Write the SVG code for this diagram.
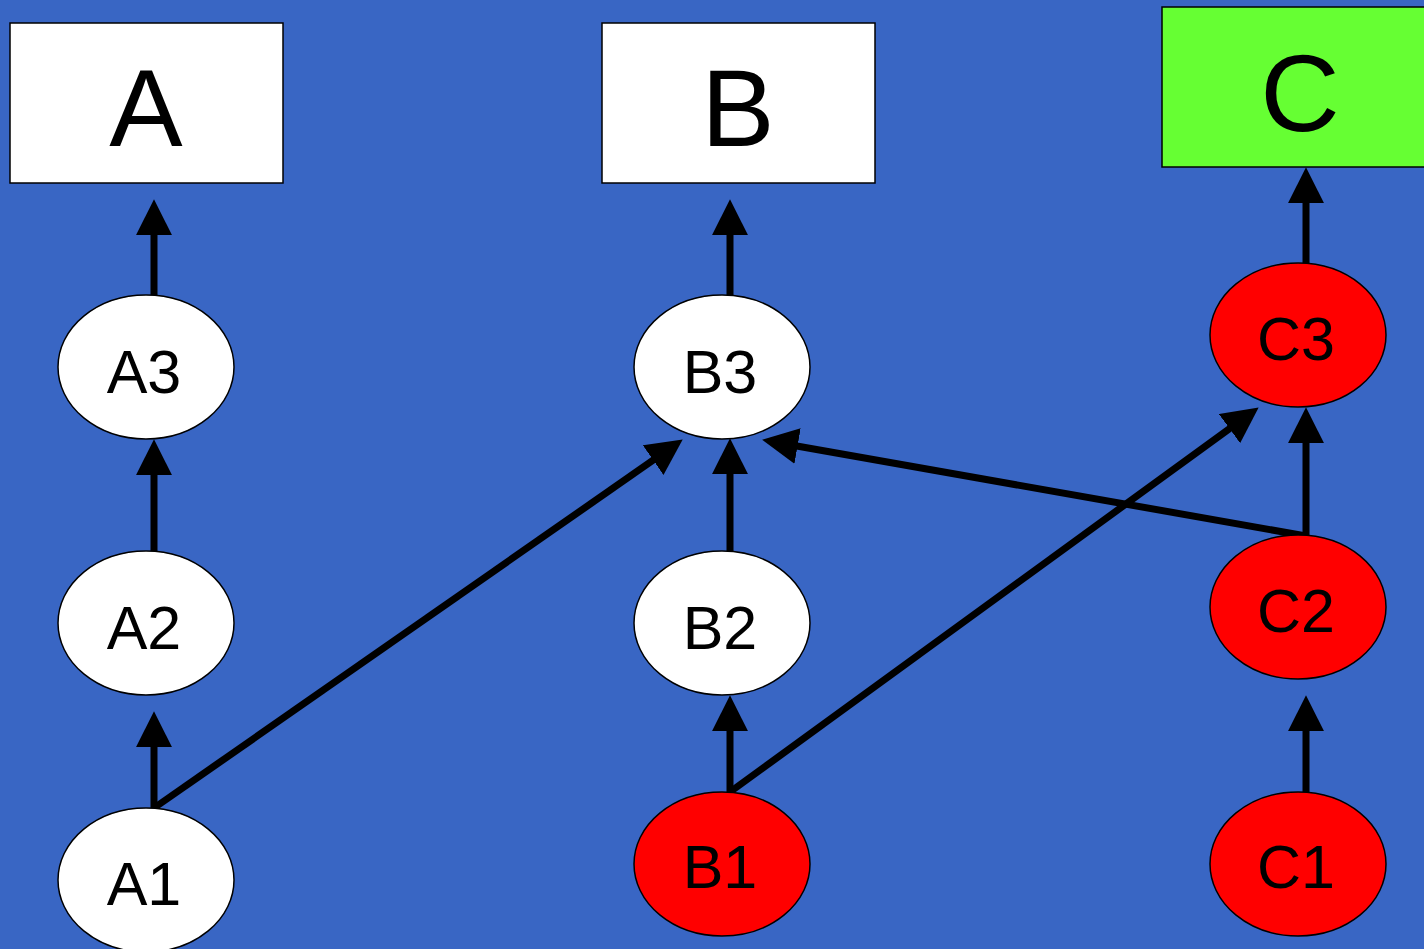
<svg xmlns="http://www.w3.org/2000/svg" width="1424" height="949" viewBox="0 0 1424 949">
<style>
.box{stroke:#000;stroke-width:1.5}
.ell{stroke:#000;stroke-width:1.5}
.w{fill:#fff}
.r{fill:#ff0000}
.g{fill:#66ff33}
.big{font-family:"Liberation Sans",Arial,sans-serif;font-size:110px;text-anchor:middle;fill:#000}
.lbl{font-family:"Liberation Sans",Arial,sans-serif;font-size:61px;text-anchor:middle;fill:#000}
.c line{stroke:#000;stroke-width:7;marker-end:url(#ah)}
</style>
<defs>
<marker id="ah" markerUnits="userSpaceOnUse" markerWidth="36" markerHeight="36" viewBox="0 0 35 35" refX="5" refY="17.5" orient="auto">
<path d="M0,0 L35,17.5 L0,35 z" fill="#000"/>
</marker>
</defs>
<rect width="1424" height="949" fill="#3966c4"/>
<g class="c" id="connectors">
<line x1="154" y1="295" x2="154" y2="230"/>
<line x1="154" y1="551" x2="154" y2="470"/>
<line x1="154" y1="808" x2="154" y2="742"/>
<line x1="154" y1="808" x2="657.4" y2="457.2"/>
<line x1="730" y1="295" x2="730" y2="230"/>
<line x1="730" y1="551" x2="730" y2="469"/>
<line x1="730" y1="792" x2="730" y2="726"/>
<line x1="730" y1="792" x2="1233.7" y2="425.6"/>
<line x1="1306" y1="536" x2="792.5" y2="445.2"/>
<line x1="1306" y1="264" x2="1306" y2="198"/>
<line x1="1306" y1="536" x2="1306" y2="438"/>
<line x1="1306" y1="792" x2="1306" y2="726"/>
</g>
<g id="A"><rect class="box w" x="10" y="23" width="273" height="160"/><text class="big" x="146" y="146">A</text></g>
<g id="B"><rect class="box w" x="602" y="23" width="273" height="160"/><text class="big" x="738" y="146">B</text></g>
<g id="C"><rect class="box g" x="1162" y="7" width="273" height="160"/><text class="big" x="1300" y="131">C</text></g>
<g id="A3"><ellipse class="ell w" cx="146" cy="367" rx="88" ry="72"/><text class="lbl" x="144" y="393">A3</text></g>
<g id="A2"><ellipse class="ell w" cx="146" cy="623" rx="88" ry="72"/><text class="lbl" x="144" y="649">A2</text></g>
<g id="A1"><ellipse class="ell w" cx="146" cy="880" rx="88" ry="72"/><text class="lbl" x="144" y="905">A1</text></g>
<g id="B3"><ellipse class="ell w" cx="722" cy="367" rx="88" ry="72"/><text class="lbl" x="720" y="393">B3</text></g>
<g id="B2"><ellipse class="ell w" cx="722" cy="623" rx="88" ry="72"/><text class="lbl" x="720" y="649">B2</text></g>
<g id="B1"><ellipse class="ell r" cx="722" cy="864" rx="88" ry="72"/><text class="lbl" x="720" y="888">B1</text></g>
<g id="C3"><ellipse class="ell r" cx="1298" cy="335" rx="88" ry="72"/><text class="lbl" x="1296" y="360">C3</text></g>
<g id="C2"><ellipse class="ell r" cx="1298" cy="607" rx="88" ry="72"/><text class="lbl" x="1296" y="632">C2</text></g>
<g id="C1"><ellipse class="ell r" cx="1298" cy="864" rx="88" ry="72"/><text class="lbl" x="1296" y="888">C1</text></g>
</svg>
